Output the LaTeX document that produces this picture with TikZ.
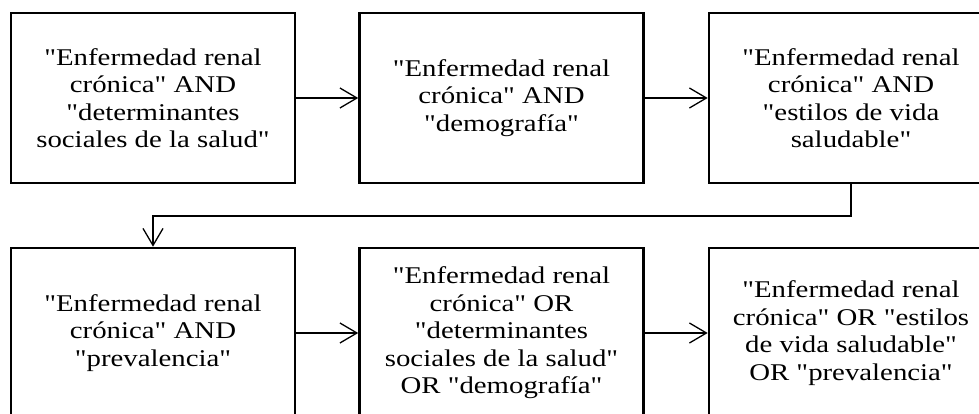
\documentclass[tikz,border=0pt]{standalone}
\usepackage{fontspec}
\newfontfamily\qfont{Liberation Serif}[FakeStretch=1.2]
\usetikzlibrary{arrows.meta}
\tikzset{
  qbox/.style={draw=black, line width=2.6pt, minimum width=284pt, minimum height=170pt,
    inner sep=0pt, align=center, font=\qfont\fontsize{24pt}{27.5pt}\selectfont},
  flow/.style={line width=1.3pt, -{Straight Barb[length=17pt,width=20pt,line width=1.3pt]}}
}
\begin{document}
\begin{tikzpicture}[x=1pt,y=-1pt]
\useasboundingbox (0,0) rectangle (979,414);
\begin{scope}
\clip (0,0) rectangle (979,414);
\node[qbox] (b1) at (153,98) {"Enfermedad renal\\crónica" AND\\"determinantes\\sociales de la salud"};
\node[qbox] (b2) at (501.5,98) {"Enfermedad renal\\crónica" AND\\"demografía"};
\node[qbox] (b3) at (851,98) {"Enfermedad renal\\crónica" AND\\"estilos de vida\\saludable"};
\node[qbox] (b4) at (153,333) {"Enfermedad renal\\crónica" AND\\"prevalencia"};
\node[qbox] (b5) at (501.5,333) {"Enfermedad renal\\crónica" OR\\"determinantes\\sociales de la salud"\\OR "demografía"};
\node[qbox] (b6) at (851,333) {"Enfermedad renal\\crónica" OR "estilos\\de vida saludable"\\OR "prevalencia"};
\coordinate (c1) at (851,216);
\coordinate (c2) at (153,216);
\draw[flow] (b1) -- (b2);
\draw[flow] (b2) -- (b3);
\draw[flow] (b3.south) -- (c1) -- (c2) -- (b4.north);
\draw[flow] (b4) -- (b5);
\draw[flow] (b5) -- (b6);
\end{scope}
\end{tikzpicture}
\end{document}
